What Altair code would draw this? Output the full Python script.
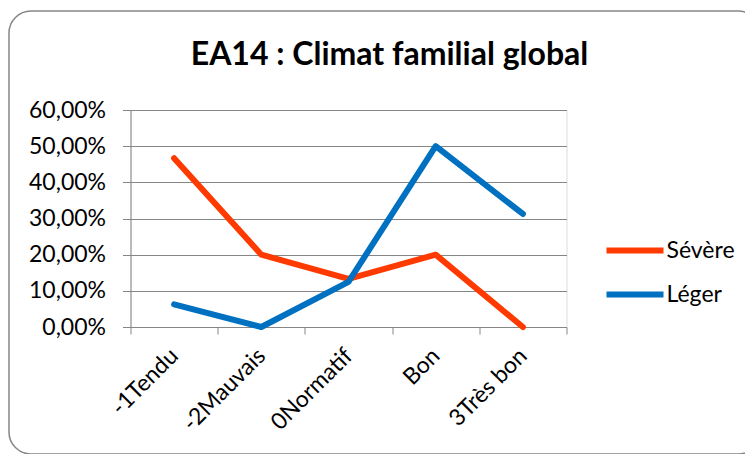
import altair as alt
import pandas as pd

categories = ["-1Tendu", "-2Mauvais", "0Normatif", "Bon", "3Très bon"]
series_names = ["Sévère", "Léger"]
severe = [0.4667, 0.20, 0.1333, 0.20, 0.0]
leger = [0.0625, 0.0, 0.125, 0.50, 0.3125]
y_ticks = [0, 0.1, 0.2, 0.3, 0.4, 0.5, 0.6]
colors = ["#FF3A00", "#0070C0"]

rows = []
for name, vals in zip(series_names, [severe, leger]):
    for c, v in zip(categories, vals):
        rows.append({"cat": c, "serie": name, "val": v})
df = pd.DataFrame(rows)

W, H = 436, 217
PL, PT = 122.5, 102
TOTAL_W, TOTAL_H = 737, 446
GRAY = "#868686"
FONT = "Lato"

border = alt.Chart(pd.DataFrame({"k": [0]})).mark_rect(
    fill="transparent", stroke=GRAY, strokeWidth=1.5, cornerRadius=22
).encode(
    x=alt.value(-121.5), x2=alt.value(629.5),
    y=alt.value(-99), y2=alt.value(344)
)

lines = alt.Chart(df).mark_line(
    strokeWidth=6, strokeCap="round", strokeJoin="round"
).encode(
    x=alt.X("cat:N", sort=categories, bandPosition=0.5,
            scale=alt.Scale(type="band", paddingInner=0, paddingOuter=0),
            axis=alt.Axis(title=None, tickBand="extent", labelAngle=-45,
                          labelAlign="right", labelBaseline="middle",
                          tickSize=7, tickColor=GRAY, domainColor=GRAY,
                          labelFontSize=23, labelFont=FONT, labelColor="black",
                          labelPadding=18, grid=False)),
    y=alt.Y("val:Q", scale=alt.Scale(domain=[0, 0.6], nice=False),
            axis=alt.Axis(title=None, values=y_ticks,
                          labelExpr="replace(format(datum.value, '.2%'), '.', ',')",
                          tickSize=8, tickColor=GRAY, domainColor=GRAY,
                          gridColor=GRAY, gridWidth=1,
                          labelFontSize=23, labelFont=FONT, labelColor="black",
                          labelPadding=17)),
    color=alt.Color("serie:N", sort=series_names,
                    scale=alt.Scale(domain=series_names, range=colors),
                    legend=alt.Legend(title=None, orient="none", legendX=473, legendY=109,
                                      symbolType="stroke", symbolStrokeWidth=6,
                                      symbolSize=3249, labelFontSize=23, labelFont=FONT,
                                      labelColor="black", rowPadding=-1, labelOffset=0)),
    order=alt.Order("serie:N"),
)

chart = alt.layer(border, lines).properties(
    width=W, height=H,
    title=alt.TitleParams("EA14 : Climat familial global", font=FONT, fontSize=32,
                          fontWeight="bold", anchor="middle", dx=41, offset=-62,
                          color="black"),
    autosize=alt.AutoSizeParams(type="none"),
    padding={"left": PL, "top": PT, "right": TOTAL_W - PL - W, "bottom": TOTAL_H - PT - H},
).configure_view(stroke=None).configure(background="white")

chart.save("out.html", embed_options={"renderer": "svg", "actions": False})
